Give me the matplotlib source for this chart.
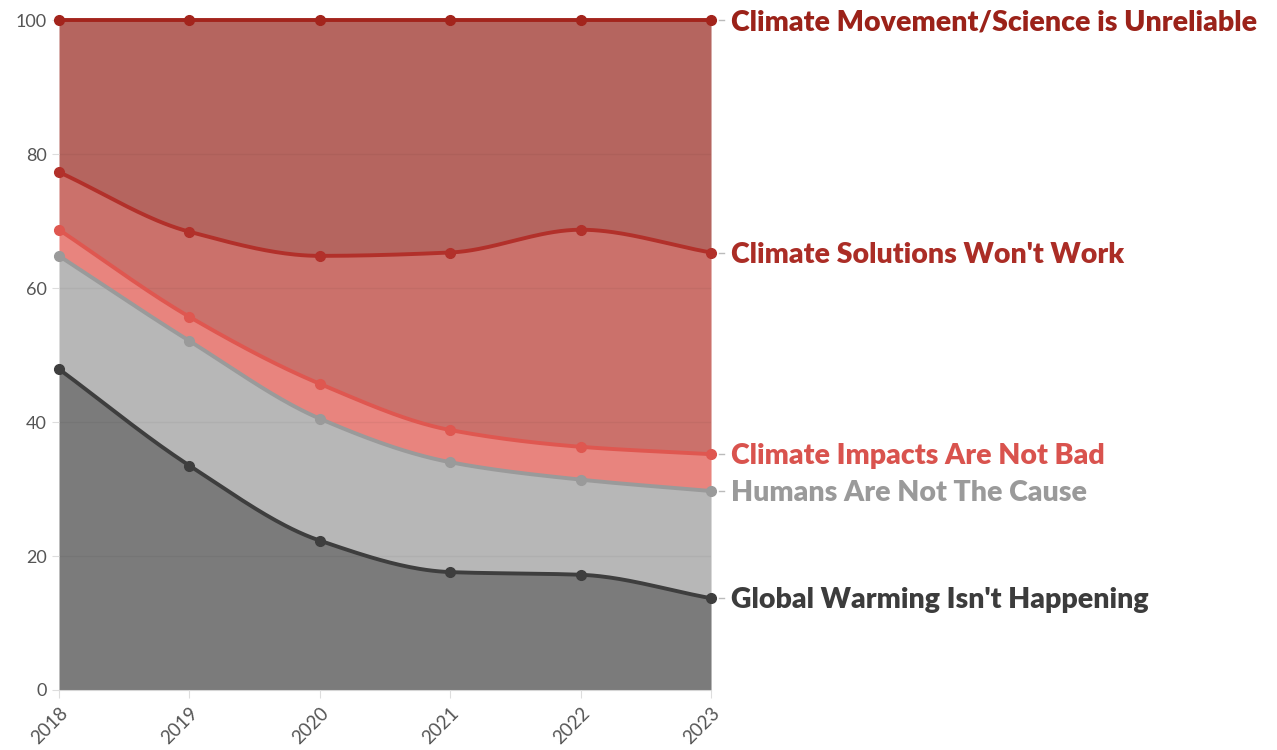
import numpy as np
import matplotlib.pyplot as plt

plt.rcParams['font.family'] = ['Lato', 'DejaVu Sans']

years = [2018, 2019, 2020, 2021, 2022, 2023]

# cumulative (stacked) shares
global_warming = [47.9, 33.5, 22.3, 17.6, 17.2, 13.7]
humans_cause = [64.8, 52.1, 40.5, 34.0, 31.4, 29.7]
impacts_bad = [68.7, 55.7, 45.7, 38.8, 36.3, 35.2]
solutions = [77.3, 68.4, 64.8, 65.3, 68.7, 65.3]
unreliable = [100, 100, 100, 100, 100, 100]

labels = [
    "Global Warming Isn't Happening",
    "Humans Are Not The Cause",
    "Climate Impacts Are Not Bad",
    "Climate Solutions Won't Work",
    "Climate Movement/Science is Unreliable",
]
fill_colors = ['#7b7b7b', '#b7b7b7', '#e8847e', '#cb716b', '#b5655f']
line_colors = ['#3e3e3e', '#9a9a9a', '#df5750', '#b2302a', '#a3241c']
text_colors = ['#3c3c3c', '#9a9a9a', '#d9534e', '#ab2d26', '#9b2219']


def monotone(x, y, n=200):
    # monotone cubic (Fritsch-Carlson), like d3.curveMonotoneX
    x = np.asarray(x, float)
    y = np.asarray(y, float)
    h = np.diff(x)
    d = np.diff(y) / h
    m = np.zeros_like(y)
    m[0], m[-1] = d[0], d[-1]
    for i in range(1, len(y) - 1):
        if d[i - 1] * d[i] <= 0:
            m[i] = 0
        else:
            w1 = 2 * h[i] + h[i - 1]
            w2 = h[i] + 2 * h[i - 1]
            m[i] = (w1 + w2) / (w1 / d[i - 1] + w2 / d[i])
    xs = np.linspace(x[0], x[-1], n)
    idx = np.clip(np.searchsorted(x, xs) - 1, 0, len(x) - 2)
    t = (xs - x[idx]) / h[idx]
    h00 = 2 * t**3 - 3 * t**2 + 1
    h10 = t**3 - 2 * t**2 + t
    h01 = -2 * t**3 + 3 * t**2
    h11 = t**3 - t**2
    ys = h00 * y[idx] + h10 * h[idx] * m[idx] + h01 * y[idx + 1] + h11 * h[idx] * m[idx + 1]
    return xs, ys


series = [global_warming, humans_cause, impacts_bad, solutions, unreliable]

fig = plt.figure(figsize=(12.77, 7.5), dpi=100)
ax = fig.add_axes([0.0462, 0.08, 0.5106, 0.8933])

prev = None
for vals, fc in zip(series, fill_colors):
    xs, ys = monotone(years, vals)
    base = np.zeros_like(ys) if prev is None else prev
    ax.fill_between(xs, base, ys, color=fc, lw=0, zorder=1)
    prev = ys

for vals, lc, tc, lab in zip(series, line_colors, text_colors, labels):
    xs, ys = monotone(years, vals)
    ax.plot(xs, ys, color=lc, lw=2.8, zorder=3, clip_on=False)
    ax.plot(years, vals, 'o', color=lc, ms=7, zorder=4, clip_on=False)
    ax.plot([2023.06, 2023.1], [vals[-1], vals[-1]], color='#bbbbbb', lw=1, clip_on=False)
    ax.text(2023.15, vals[-1] - 0.3, lab, color=tc, fontsize=20.5, fontweight='heavy',
            va='center', ha='left', clip_on=False)

ax.set_xlim(2018, 2023)
ax.set_ylim(0, 100)
ax.set_yticks([0, 20, 40, 60, 80, 100])
ax.set_xticks(years)
ax.set_xticklabels([str(y) for y in years], rotation=45, ha='right',
                   rotation_mode='anchor', fontsize=13.5, color='#555555')
ax.tick_params(axis='y', labelsize=13, labelcolor='#555555', length=5, color='#dddddd', pad=4)
ax.tick_params(axis='x', length=6, color='#dddddd', pad=4)
ax.grid(axis='y', color='#000000', alpha=0.045, lw=1, zorder=2)
ax.set_axisbelow(False)
for s in ['top', 'right', 'left']:
    ax.spines[s].set_visible(False)
ax.spines['bottom'].set_color('#d5d5d5')
ax.spines['bottom'].set_zorder(2)

fig.savefig('out.png', dpi=100)
